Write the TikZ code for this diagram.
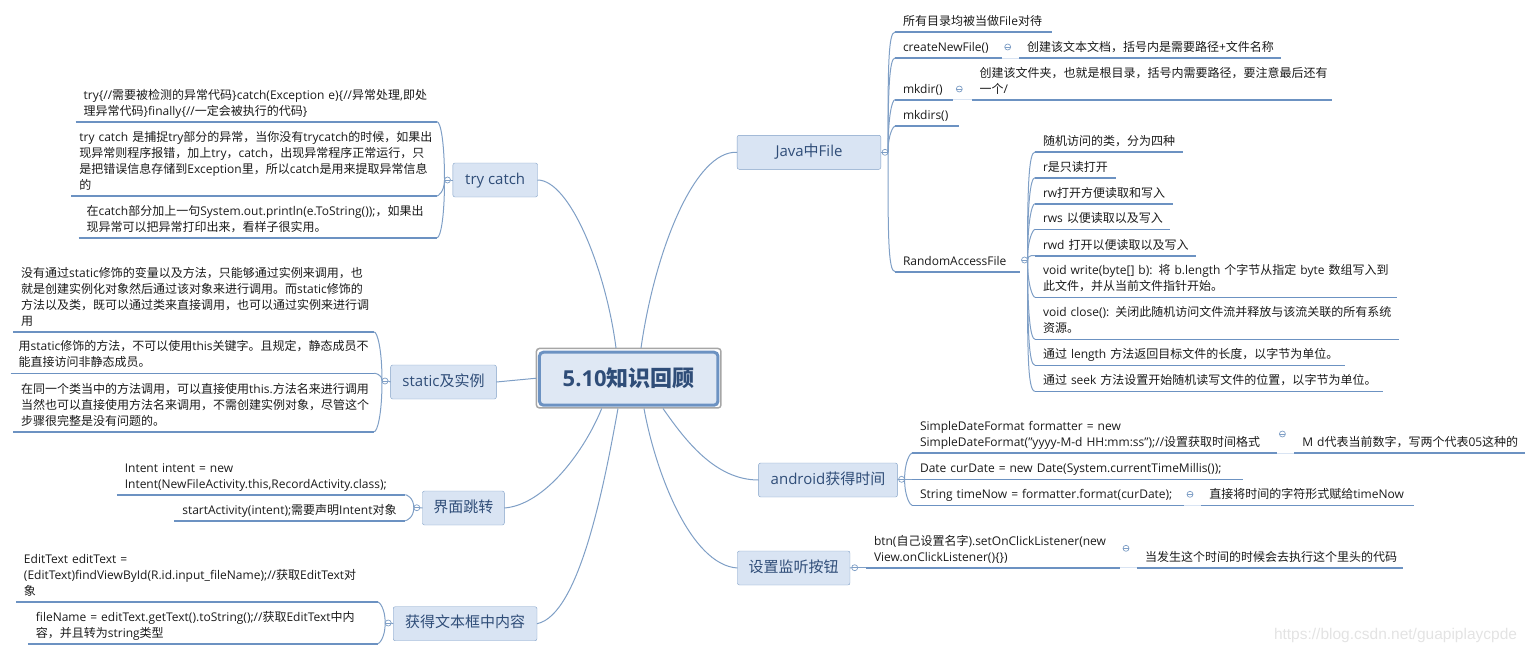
\documentclass[tikz,border=0pt]{standalone}
\usepackage{fontspec}
\setmainfont{Open Sans}
\newfontfamily\cjkfont{Noto Sans CJK SC}
\newfontfamily\markfont{Liberation Sans}
% CJK runs switch font by themselves
\XeTeXinterchartokenstate=1
\newXeTeXintercharclass\cjkclass
\newcount\cjkcode
\cjkcode="4E00
\loop\ifnum\cjkcode<"9FA6 \XeTeXcharclass\cjkcode=\cjkclass \advance\cjkcode 1 \repeat
\cjkcode="3000
\loop\ifnum\cjkcode<"3040 \XeTeXcharclass\cjkcode=\cjkclass \advance\cjkcode 1 \repeat
\cjkcode="FF00
\loop\ifnum\cjkcode<"FFF0 \XeTeXcharclass\cjkcode=\cjkclass \advance\cjkcode 1 \repeat
\XeTeXinterchartoks 0 \cjkclass = {\begingroup\cjkfont}
\XeTeXinterchartoks 4095 \cjkclass = {\begingroup\cjkfont}
\XeTeXinterchartoks \cjkclass 0 = {\endgroup}
\XeTeXinterchartoks \cjkclass 4095 = {\endgroup}
\definecolor{linkblue}{HTML}{7F9FC6}
\definecolor{underblue}{HTML}{6C92C2}
\definecolor{boxfill}{HTML}{D9E4F3}
\definecolor{rootfill}{HTML}{DFE8F4}
\definecolor{titleblue}{HTML}{2F4D78}
\definecolor{leaftext}{HTML}{1A1A1A}
\tikzset{
  leaf/.style={anchor=south west,inner xsep=0pt,inner ysep=3.4pt,outer sep=0pt,
    text width=#1,align=left,text=leaftext,font=\fontsize{12}{16}\selectfont,
    execute at begin node={\leftskip=8pt},execute at end node={\rule[-3pt]{0pt}{3pt}}},
  topic/.style={draw=linkblue,fill=boxfill,rounded corners=2pt,outer sep=0pt,minimum height=34pt,
    minimum width=#1,inner sep=0pt,text height=11pt,text depth=3pt,text=titleblue,font=\fontsize{15}{18}\selectfont},
  hub/.style={circle,draw=linkblue,fill=white,inner sep=0pt,outer sep=0pt,minimum size=6pt,line width=.7pt,
    path picture={\draw[linkblue,line width=.7pt] (path picture bounding box.west) -- (path picture bounding box.east);}},
  under/.style={underblue,line width=1.6pt},
  bus/.style={linkblue,line width=1pt,out looseness=1.7,in looseness=.15},
  link/.style={linkblue,line width=1pt},
  faint/.style={boxfill,line width=1pt}
}
\begin{document}
\begin{tikzpicture}[x=1pt,y=-1pt]
\useasboundingbox (0,0) rectangle (1529,653);
% centre
\node[draw=gray!70,fill=white,line width=1.5pt,rounded corners=3pt,minimum width=184.5pt,minimum height=59.5pt,outer sep=0pt] (rootframe) at (628.7,378.2) {};
\node[draw=underblue,fill=rootfill,line width=3pt,rounded corners=4pt,minimum width=178.5pt,minimum height=53pt,inner sep=0pt,outer sep=0pt,text=titleblue,font=\fontsize{22}{26}\selectfont\bfseries] (root) at (628.7,378.7) {5.10知识回顾};
\coordinate (roottop1) at (616,348);
\coordinate (roottop2) at (641,348);
\coordinate (rootbot1) at (601.7,408.5);
\coordinate (rootbot2) at (618,408.5);
\coordinate (rootbot3) at (644,408.5);
\coordinate (rootbot4) at (663,408.5);
% topics
\node[topic=84.6pt] (tcbox) at (495.2,180) {try catch};
\node[topic=105.7pt] (stbox) at (443.5,382) {static及实例};
\node[topic=81.8pt] (inbox) at (463.4,508) {界面跳转};
\node[topic=143.8pt] (edbox) at (465.1,623.7) {获得文本框中内容};
\node[topic=143.7pt] (javabox) at (809,152.3) {Java中File};
\node[topic=138.8pt] (anbox) at (828,480) {android获得时间};
\node[topic=112.5pt] (btbox) at (793.7,568) {设置监听按钮};
\draw[link] (tcbox.east) .. controls (570,180) and (606,270) .. (roottop1);
\draw[link] (stbox.east) -- (rootframe.west);
\draw[link] (inbox.east) .. controls (545,505) and (585,450) .. (rootbot1);
\draw[link] (edbox.east) .. controls (580,615) and (605,480) .. (rootbot2);
\draw[link] (javabox.west) .. controls (695,150) and (655,250) .. (roottop2);
\draw[link] (anbox.west) .. controls (715,480) and (685,440) .. (rootbot4);
\draw[link] (btbox.west) .. controls (690,565) and (655,470) .. (rootbot3);
% try catch
\node[leaf=361.3pt] (tc1) at (75.7,121.7) {try\{//需要被检测的异常代码\}catch(Exception e)\{//异常处理,即处\\理异常代码\}finally\{//一定会被执行的代码\}};
\node[leaf=365.6pt] (tc2) at (71.4,196) {try catch 是捕捉try部分的异常，当你没有trycatch的时候，如果出\\现异常则程序报错，加上try，catch，出现异常程序正常运行，只\\是把错误信息存储到Exception里，所以catch是用来提取异常信息\\的};
\node[leaf=358.4pt] (tc3) at (78.6,237.7) {在catch部分加上一句System.out.println(e.ToString());，如果出\\现异常可以把异常打印出来，看样子很实用。};
\node[hub] (tchub) at (447.5,180) {};
% static
\node[leaf=361pt] (st1) at (13.2,332) {没有通过static修饰的变量以及方法，只能够通过实例来调用，也\\就是创建实例化对象然后通过该对象来进行调用。而static修饰的\\方法以及类，既可以通过类来直接调用，也可以通过实例来进行调\\用};
\node[leaf=363.3pt] (st2) at (10.7,373.3) {用static修饰的方法，不可以使用this关键字。且规定，静态成员不\\能直接访问非静态成员。};
\node[leaf=361pt] (st3) at (13.2,431.7) {在同一个类当中的方法调用，可以直接使用this.方法名来进行调用\\当然也可以直接使用方法名来调用，不需创建实例对象，尽管这个\\步骤很完整是没有问题的。};
\node[hub] (sthub) at (385,381) {};
% jump
\node[leaf=288.6pt] (in1) at (116.8,494.7) {Intent intent = new\\Intent(NewFileActivity.this,RecordActivity.class);};
\node[leaf=231pt] (in2) at (174.3,520.7) {startActivity(intent);需要声明Intent对象};
\node[hub] (inhub) at (416.8,507.7) {};
% edit text
\node[leaf=362pt] (ed1) at (16,602) {EditText editText =\\(EditText)findViewById(R.id.input\_fileName);//获取EditText对\\象};
\node[leaf=350pt] (ed2) at (27.9,643.7) {fileName = editText.getText().toString();//获取EditText中内\\容，并且转为string类型};
\node[hub] (edhub) at (388.2,623) {};
% java file
\node[leaf=157pt] (f1) at (895,32) {所有目录均被当做File对待};
\node[leaf=106.7pt] (f2) at (895,58) {createNewFile()};
\node[leaf=262pt] (f2a) at (1019,58) {创建该文本文档，括号内是需要路径+文件名称};
\node[leaf=58pt] (f3) at (895,99.7) {mkdir()};
\node[leaf=360pt] (f3a) at (971.7,99.7) {创建该文件夹，也就是根目录，括号内需要路径，要注意最后还有\\一个/};
\node[leaf=64.3pt] (f4) at (895,126) {mkdirs()};
\node[leaf=125pt] (f5) at (895,271.7) {RandomAccessFile};
\node[hub] (javahub) at (885,152.3) {};
\node[hub] (f2hub) at (1007.7,47) {};
\node[hub] (f3hub) at (959.3,89) {};
\node[hub] (f5hub) at (1024.5,260) {};
% random access
\node[leaf=148.3pt] (r1) at (1035,152) {随机访问的类，分为四种};
\node[leaf=81pt] (r2) at (1035,177.7) {r是只读打开};
\node[leaf=137.7pt] (r3) at (1035,203.7) {rw打开方便读取和写入};
\node[leaf=135pt] (r4) at (1035,229.3) {rws 以便读取以及写入};
\node[leaf=160.7pt] (r5) at (1035,255.7) {rwd 打开以便读取以及写入};
\node[leaf=362.3pt] (r6) at (1035,297.3) {void write(byte[] b): 将 b.length 个字节从指定 byte 数组写入到\\此文件，并从当前文件指针开始。};
\node[leaf=364.3pt] (r7) at (1035,339.3) {void close(): 关闭此随机访问文件流并释放与该流关联的所有系统\\资源。};
\node[leaf=310.3pt] (r8) at (1035,365.3) {通过 length 方法返回目标文件的长度，以字节为单位。};
\node[leaf=347.7pt] (r9) at (1035,391.3) {通过 seek 方法设置开始随机读写文件的位置，以字节为单位。};
% android time
\node[leaf=365.3pt] (a1) at (912,453) {SimpleDateFormat formatter = new\\SimpleDateFormat("yyyy-M-d HH:mm:ss");//设置获取时间格式};
\node[leaf=230.7pt] (a1b) at (1294.3,453) {M d代表当前数字，写两个代表05这种的};
\node[leaf=330.7pt] (a2) at (912,479.3) {Date curDate = new Date(System.currentTimeMillis());};
\node[leaf=272.4pt] (a3) at (912,505.3) {String timeNow = formatter.format(curDate);};
\node[leaf=212.6pt] (a3b) at (1201.4,505.3) {直接将时间的字符形式赋给timeNow};
\node[hub] (anhub) at (901.6,479.3) {};
\node[hub] (a1hub) at (1282.4,434) {};
\node[hub] (a3hub) at (1190,494.3) {};
% button
\node[leaf=254pt] (b1) at (866,567.7) {btn(自己设置名字).setOnClickListener(new\\View.onClickListener()\{\})};
\node[leaf=266pt] (b1b) at (1137,567.7) {当发生这个时间的时候会去执行这个里头的代码};
\node[hub] (bthub) at (854.7,567.7) {};
\node[hub] (b1hub) at (1126,548.3) {};
% underlines
\foreach \n in {tc1,tc2,tc3,st1,st2,st3,in1,in2,ed1,ed2,f1,f2,f2a,f3,f3a,f4,f5,r1,r2,r3,r4,r5,r6,r7,r8,r9,a1,a1b,a2,a3,a3b,b1,b1b}
  \draw[under] (\n.south west) -- (\n.south east);
\draw[faint] (f2.south east) -- (f2a.south west);
\draw[faint] (f3.south east) -- (f3a.south west);
\draw[faint] (a1.south east) -- (a1b.south west);
\draw[faint] (a3.south east) -- (a3b.south west);
\draw[faint] (b1.south east) -- (b1b.south west);
% left buses
\foreach \n/\o in {tc1/90,tc2/-90,tc3/-90} \draw[bus] (tchub.west) to[out=\o,in=0] (\n.south east);
\foreach \n/\o in {st1/90,st2/90,st3/-90} \draw[bus] (sthub.west) to[out=\o,in=0] (\n.south east);
\foreach \n/\o in {in1/90,in2/-90} \draw[bus] (inhub.west) to[out=\o,in=0] (\n.south east);
\foreach \n/\o in {ed1/90,ed2/-90} \draw[bus] (edhub.west) to[out=\o,in=0] (\n.south east);
% right buses
\foreach \n/\o in {f1/90,f2/90,f3/90,f4/90,f5/-90} \draw[bus] (javahub.east) to[out=\o,in=180] (\n.south west);
\foreach \n/\o in {r1/90,r2/90,r3/90,r4/90,r5/90,r6/-90,r7/-90,r8/-90,r9/-90} \draw[bus] (f5hub.east) to[out=\o,in=180] (\n.south west);
\foreach \n/\o in {a1/90,a3/-90} \draw[bus] (anhub.east) to[out=\o,in=180] (\n.south west);
\draw[bus] (anhub.east) -- (a2.south west);
\draw[bus] (bthub.east) -- (b1.south west);
\draw[link] (tcbox.west) -- (tchub.east);
\draw[link] (stbox.west) -- (sthub.east);
\draw[link] (inbox.west) -- (inhub.east);
\draw[link] (edbox.west) -- (edhub.east);
\draw[link] (javabox.east) -- (javahub.west);
\draw[link] (anbox.east) -- (anhub.west);
\draw[link] (btbox.east) -- (bthub.west);
% watermark
\node[text=gray!22,font=\markfont\fontsize{15.5}{18}\selectfont,inner sep=0pt] (mark) at (1395.5,635) {https://blog.csdn.net/guapiplaycpde};
\end{tikzpicture}
\end{document}
